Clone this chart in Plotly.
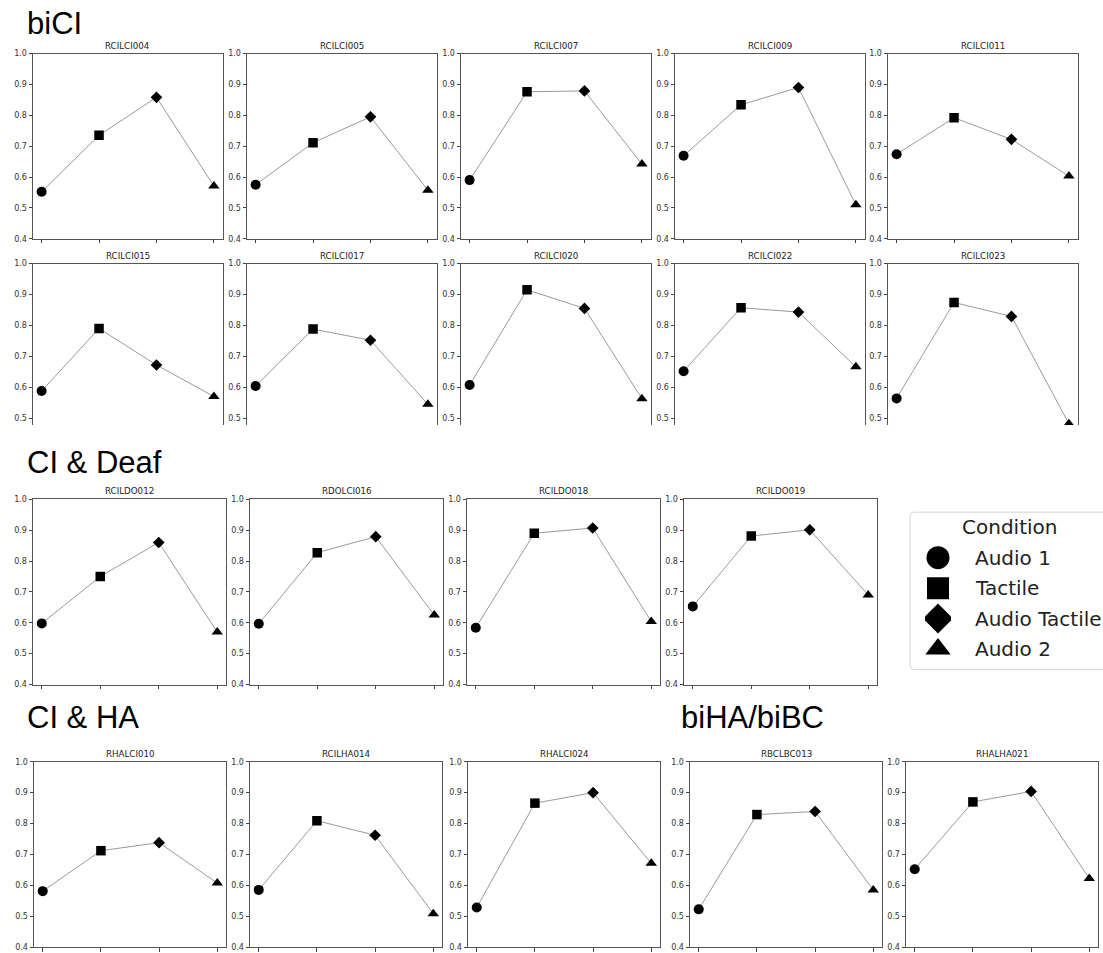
import plotly.graph_objects as go

W, H = 1103, 953

# ---------------- data ----------------
conditions = ["Audio 1", "Tactile", "Audio Tactile", "Audio 2"]
symbols = ["circle", "square", "diamond", "triangle-up"]

subjects = ["RCILCI004", "RCILCI005", "RCILCI007", "RCILCI009", "RCILCI011",
            "RCILCI015", "RCILCI017", "RCILCI020", "RCILCI022", "RCILCI023",
            "RCILDO012", "RDOLCI016", "RCILDO018", "RCILDO019",
            "RHALCI010", "RCILHA014", "RHALCI024",
            "RBCLBC013", "RHALHA021"]
groups = ["biCI"] * 10 + ["CI & Deaf"] * 4 + ["CI & HA"] * 3 + ["biHA/biBC"] * 2

audio1 = [0.552, 0.575, 0.590, 0.669, 0.674,
          0.588, 0.604, 0.607, 0.652, 0.564,
          0.598, 0.597, 0.584, 0.653,
          0.581, 0.585, 0.528,
          0.522, 0.652]
tactile = [0.735, 0.711, 0.876, 0.834, 0.792,
           0.790, 0.788, 0.915, 0.857, 0.874,
           0.750, 0.827, 0.890, 0.881,
           0.712, 0.809, 0.866,
           0.829, 0.870]
audio_tactile = [0.858, 0.795, 0.879, 0.890, 0.722,
                 0.672, 0.752, 0.855, 0.843, 0.829,
                 0.860, 0.879, 0.907, 0.901,
                 0.738, 0.762, 0.900,
                 0.839, 0.904]
audio2 = [0.571, 0.557, 0.642, 0.510, 0.603,
          0.570, 0.545, 0.563, 0.666, 0.482,
          0.570, 0.625, 0.604, 0.690,
          0.607, 0.508, 0.671,
          0.585, 0.622]

y_ticks = [0.4, 0.5, 0.6, 0.7, 0.8, 0.9, 1.0]

# ---------------- layout geometry (pixels) ----------------
rows = [
    dict(top=50, bottom=237, lefts=[33, 247, 461, 675, 888], w=189.5, ymin=0.4, cut=False),
    dict(top=262, bottom=425, lefts=[33, 247, 461, 675, 888], w=189.5, ymin=0.478, cut=True),
    dict(top=500, bottom=687, lefts=[33, 250, 467, 684], w=193, ymin=0.4, cut=False),
    dict(top=765, bottom=952, lefts=[34, 250, 468, 690, 906], w=192, ymin=0.4, cut=False),
]
panel_pos = []
for r in rows:
    for L in r["lefts"]:
        panel_pos.append((L, r))


def px(x):
    return x / W


def py(y):
    return 1 - y / H


fig = go.Figure()
layout = dict(
    width=W, height=H, margin=dict(l=0, r=0, t=0, b=0),
    paper_bgcolor="white", plot_bgcolor="white", showlegend=False,
    font=dict(family="DejaVu Sans", color="#333"),
)
annotations = []
shapes = []

spine = "#555"
marker_sizes = [10, 9.5, 9, 10]
for i, subj in enumerate(subjects):
    L, r = panel_pos[i]
    n = i + 1
    xa = "xaxis" if n == 1 else f"xaxis{n}"
    ya = "yaxis" if n == 1 else f"yaxis{n}"
    xr = "x" if n == 1 else f"x{n}"
    yr = "y" if n == 1 else f"y{n}"
    vals = [audio1[i], tactile[i], audio_tactile[i], audio2[i]]
    xs = list(range(len(conditions)))
    fig.add_trace(go.Scatter(
        x=xs, y=vals, mode="lines", xaxis=xr, yaxis=yr,
        line=dict(color="#9a9a9a", width=1), hoverinfo="skip",
    ))
    for k in range(len(conditions)):
        fig.add_trace(go.Scatter(
            x=[xs[k]], y=[vals[k]], mode="markers", xaxis=xr, yaxis=yr,
            name=conditions[k],
            marker=dict(symbol=symbols[k], color="black",
                        size=marker_sizes[k], line=dict(width=0)),
        ))
    xdom = [px(L), px(L + r["w"])]
    ydom = [py(r["bottom"]), py(r["top"])]
    if r["cut"]:
        layout[xa] = dict(domain=xdom, anchor=yr, range=[-0.15, 3.15],
                          side="top", showline=True, linecolor=spine, linewidth=1,
                          mirror=False, ticks="", showticklabels=False,
                          showgrid=False, zeroline=False)
    else:
        layout[xa] = dict(domain=xdom, anchor=yr, range=[-0.15, 3.15],
                          tickvals=xs, ticktext=[""] * 4, ticks="outside",
                          ticklen=3.5, tickcolor="#444", tickwidth=1,
                          showline=True, linecolor=spine, linewidth=1, mirror=True,
                          showgrid=False, zeroline=False)
    layout[ya] = dict(domain=ydom, anchor=xr, range=[r["ymin"], 1.0],
                      tickvals=y_ticks, ticktext=[f"{v:.1f}" for v in y_ticks],
                      ticks="outside", ticklen=3.5, tickcolor="#444", tickwidth=1,
                      tickfont=dict(size=8, color="#333", family="DejaVu Sans"),
                      showline=True, linecolor=spine, linewidth=1, mirror=True,
                      showgrid=False, zeroline=False)
    annotations.append(dict(
        text=subj, xref="paper", yref="paper",
        x=px(L + r["w"] / 2), y=py(r["top"] - 8),
        xanchor="center", yanchor="middle", showarrow=False,
        font=dict(size=8.7, color="#222", family="DejaVu Sans"),
    ))

# section headers
section_names = ["biCI", "CI & Deaf", "CI & HA", "biHA/biBC"]
section_pos = [(27, 20), (27, 463), (27, 720), (681, 720)]
for name, (sx, sy) in zip(section_names, section_pos):
    annotations.append(dict(
        text=name, xref="paper", yref="paper", x=px(sx - 2), y=py(sy),
        xanchor="left", yanchor="middle", showarrow=False,
        font=dict(size=31, color="black", family="Liberation Sans"),
    ))

# legend (drawn manually)
lx0, ly0, lx1, ly1, rad = 910, 513, 1115, 672, 4
shapes.append(dict(
    type="path", xref="paper", yref="paper",
    path=(f"M {px(lx0 + rad)},{py(ly0)} L {px(lx1)},{py(ly0)} L {px(lx1)},{py(ly1)} "
          f"L {px(lx0 + rad)},{py(ly1)} Q {px(lx0)},{py(ly1)} {px(lx0)},{py(ly1 - rad)} "
          f"L {px(lx0)},{py(ly0 + rad)} Q {px(lx0)},{py(ly0)} {px(lx0 + rad)},{py(ly0)} Z"),
    line=dict(color="#d4d4d4", width=1), fillcolor="white", layer="below",
))
annotations.append(dict(
    text="Condition", xref="paper", yref="paper", x=px(1009), y=py(528),
    xanchor="center", yanchor="middle", showarrow=False,
    font=dict(size=20, color="#222", family="DejaVu Sans"),
))
row0, step = 559, 30.7
leg_n = len(subjects) + 1
leg_x = f"x{leg_n}"
leg_y = f"y{leg_n}"
for k, c in enumerate(conditions):
    fig.add_trace(go.Scatter(
        x=[0], y=[c], mode="markers", xaxis=leg_x, yaxis=leg_y,
        marker=dict(symbol=symbols[k], color="black",
                    size=[23, 22, 23, 22][k], line=dict(width=0)),
        hoverinfo="skip",
    ))
    annotations.append(dict(
        text=c, xref="paper", yref="paper", x=px(973), y=py(row0 + k * step),
        xanchor="left", yanchor="middle", showarrow=False,
        font=dict(size=20, color="#222", family="DejaVu Sans"),
    ))
layout[f"xaxis{leg_n}"] = dict(domain=[px(925), px(951)], anchor=leg_y, range=[-1, 1],
                               visible=False, fixedrange=True)
layout[f"yaxis{leg_n}"] = dict(domain=[py(row0 + 3.5 * step), py(row0 - 0.5 * step)],
                               anchor=leg_x, type="category", categoryarray=conditions,
                               range=[3.5, -0.5], visible=False, fixedrange=True)

layout["annotations"] = annotations
layout["shapes"] = shapes
fig.update_layout(**layout)

fig.write_html("out.html", config={"displayModeBar": False},
               post_script="document.body.style.margin='0';")
